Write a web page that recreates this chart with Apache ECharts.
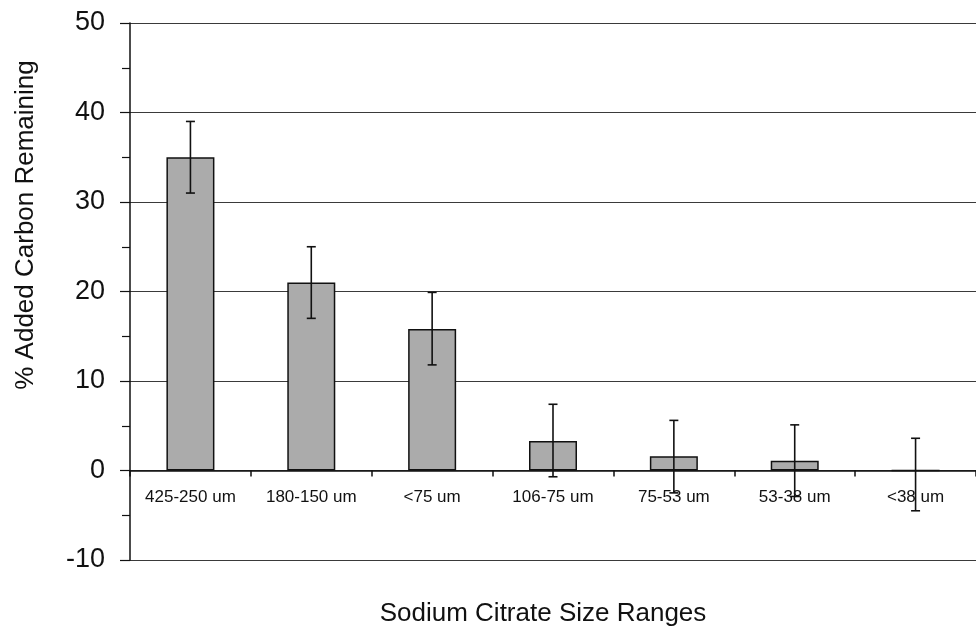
<!DOCTYPE html>
<html>
<head>
<meta charset="utf-8">
<script src="https://cdn.jsdelivr.net/npm/echarts@6/dist/echarts.min.js"></script>
<style>
  html, body { margin: 0; padding: 0; background: #fff; }
  #chart { width: 976px; height: 635px; }
</style>
</head>
<body>
<div id="chart"></div>
<script>
// Size fractions of sodium citrate
const categories = ['425-250 um', '180-150 um', '<75 um', '106-75 um', '75-53 um', '53-38 um', '<38 um'];
// Mean % of added carbon remaining
const meanValues = [35.0, 21.0, 15.8, 3.3, 1.6, 1.1, 0];
// Error bar ends (lower / upper)
const errLow  = [31.0, 17.0, 11.8, -0.7, -2.5, -2.9, -4.5];
const errHigh = [39.0, 25.0, 19.9, 7.4, 5.6, 5.1, 3.6];
// Value axis ticks
const yTicks = [-10, 0, 10, 20, 30, 40, 50];

const FONT = '"Liberation Sans", Arial, Helvetica, sans-serif';

const chart = echarts.init(document.getElementById('chart'), null, { renderer: 'canvas' });

const errorData = categories.map((c, i) => [i, errLow[i], errHigh[i]]);

chart.setOption({
  animation: false,
  backgroundColor: '#ffffff',
  grid: { left: 130, top: 23, width: 855, height: 537, containLabel: false },
  xAxis: {
    type: 'category',
    data: categories,
    axisLine: { onZero: true, lineStyle: { color: '#111', width: 1.5 } },
    axisTick: { show: true, alignWithLabel: false, length: 6, inside: false, lineStyle: { color: '#111', width: 1.5 } },
    // labels sit just under the zero line, above the -10 border
    axisLabel: { fontFamily: FONT, fontSize: 17, color: '#111', margin: -71, interval: 0 },
    splitLine: { show: false }
  },
  yAxis: {
    type: 'value',
    min: yTicks[0],
    max: yTicks[yTicks.length - 1],
    interval: 10,
    axisLine: { show: true, lineStyle: { color: '#111', width: 1.5 } },
    axisTick: { show: true, length: 10, lineStyle: { color: '#111', width: 1.2 } },
    minorTick: { show: true, splitNumber: 2, length: 8, lineStyle: { color: '#111', width: 1.2 } },
    axisLabel: { fontFamily: FONT, fontSize: 27, color: '#111', margin: 25 },
    splitLine: { show: true, lineStyle: { color: '#3a3a3a', width: 1 } }
  },
  series: [
    {
      type: 'bar',
      data: meanValues,
      barWidth: 48,
      itemStyle: { color: '#ababab', borderColor: '#111', borderWidth: 1.5 },
      z: 2
    },
    {
      type: 'custom',
      data: errorData,
      z: 5,
      renderItem: function (params, api) {
        const idx = api.value(0);
        const lo = api.coord([idx, api.value(1)]);
        const hi = api.coord([idx, api.value(2)]);
        const cap = 4.5;
        const style = { stroke: '#111', lineWidth: 1.6 };
        return {
          type: 'group',
          children: [
            { type: 'line', shape: { x1: hi[0], y1: hi[1], x2: lo[0], y2: lo[1] }, style: style },
            { type: 'line', shape: { x1: hi[0] - cap, y1: hi[1], x2: hi[0] + cap, y2: hi[1] }, style: style },
            { type: 'line', shape: { x1: lo[0] - cap, y1: lo[1], x2: lo[0] + cap, y2: lo[1] }, style: style }
          ]
        };
      }
    }
  ],
  graphic: [
    {
      type: 'text',
      x: 26, y: 225,
      rotation: Math.PI / 2,
      style: {
        text: '% Added Carbon Remaining',
        font: '26px ' + FONT,
        fill: '#111',
        textAlign: 'center',
        textVerticalAlign: 'middle'
      }
    },
    {
      type: 'text',
      x: 543, y: 614,
      style: {
        text: 'Sodium Citrate Size Ranges',
        font: '26px ' + FONT,
        fill: '#111',
        textAlign: 'center',
        textVerticalAlign: 'middle'
      }
    }
  ]
});
</script>
</body>
</html>
